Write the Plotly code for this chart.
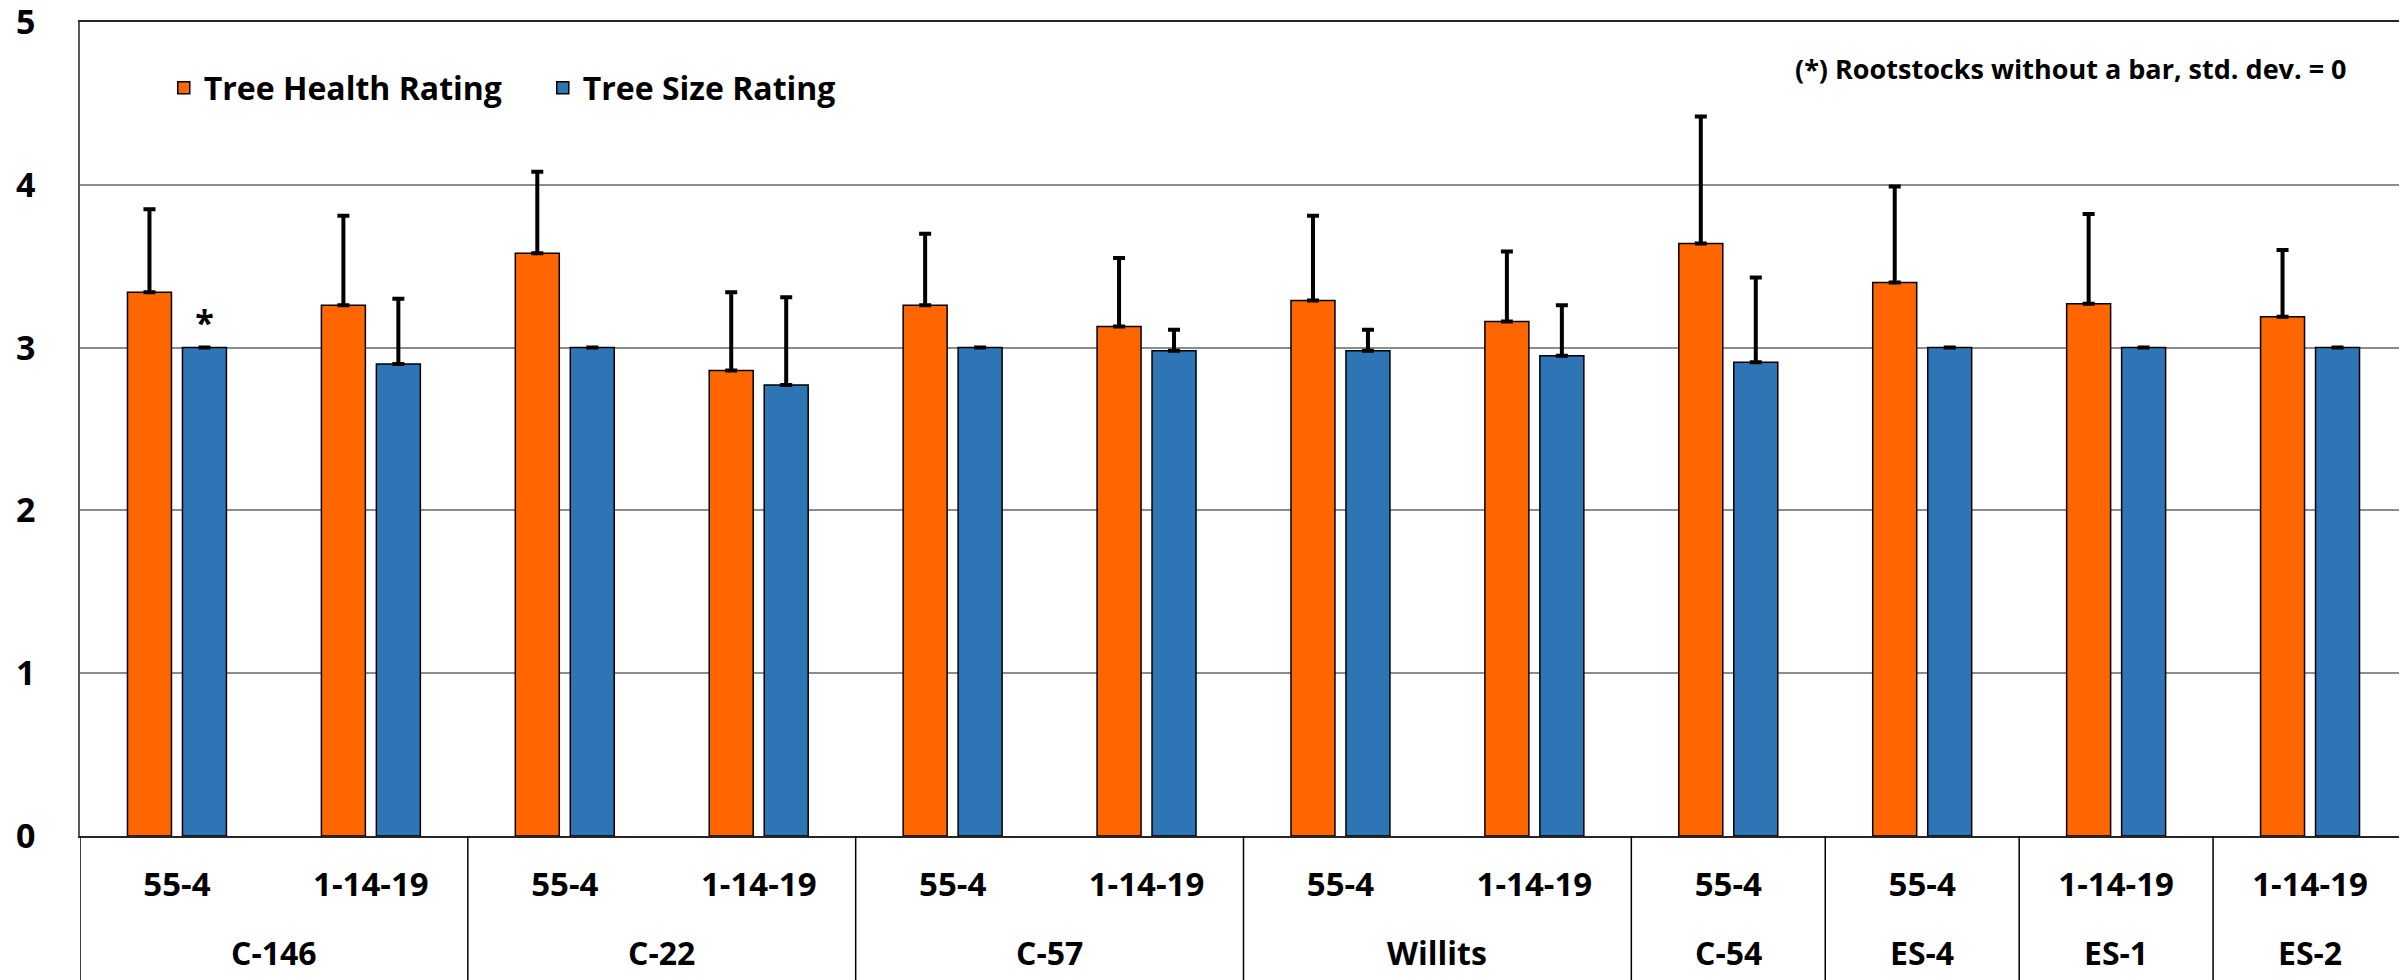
import plotly.graph_objects as go

# ---- data ----
groups = ["C-146", "C-146", "C-22", "C-22", "C-57", "C-57", "Willits", "Willits",
          "C-54", "ES-4", "ES-1", "ES-2"]
selections = ["55-4", "1-14-19", "55-4", "1-14-19", "55-4", "1-14-19", "55-4", "1-14-19",
              "55-4", "55-4", "1-14-19", "1-14-19"]
health = [3.34, 3.26, 3.58, 2.86, 3.26, 3.13, 3.29, 3.16, 3.64, 3.40, 3.27, 3.19]
health_sd = [0.51, 0.55, 0.50, 0.48, 0.44, 0.42, 0.52, 0.43, 0.78, 0.59, 0.55, 0.41]
size = [3.00, 2.90, 3.00, 2.77, 3.00, 2.98, 2.98, 2.95, 2.91, 3.00, 3.00, 3.00]
size_sd = [0.00, 0.40, 0.00, 0.54, 0.00, 0.13, 0.13, 0.31, 0.52, 0.00, 0.00, 0.00]
size_marks = ["*", "", "", "", "", "", "", "", "", "", "", ""]
y_ticks = [0, 1, 2, 3, 4, 5]
note = "(*) Rootstocks without a bar, std. dev. = 0"

FONT = "Open Sans, Liberation Sans, Arial, sans-serif"
pos = list(range(len(groups)))
zeros = [0] * len(health)

fig = go.Figure()
fig.add_trace(go.Bar(
    name="Tree Health Rating", x=pos, y=health,
    marker=dict(color="#FF6600", line=dict(color="black", width=1.5)),
    error_y=dict(type="data", symmetric=False, array=health_sd, arrayminus=zeros,
                 color="black", thickness=4, width=6),
))
fig.add_trace(go.Bar(
    name="Tree Size Rating", x=pos, y=size,
    marker=dict(color="#2E75B6", line=dict(color="black", width=1.5)),
    error_y=dict(type="data", symmetric=False, array=size_sd, arrayminus=zeros,
                 color="black", thickness=4, width=6),
    text=size_marks, textposition="outside", cliponaxis=False,
    textfont=dict(size=34, color="black", family=FONT, weight="bold"),
))

# group (outer level) labels and dividers, derived from the groups list
bounds = [i for i in range(len(groups)) if i == 0 or groups[i] != groups[i - 1]]
bounds_end = bounds[1:] + [len(groups)]
for start, end in zip(bounds, bounds_end):
    center = (start + end - 1) / 2
    fig.add_annotation(
        text=groups[start], x=center, xref="x", y=-0.1437, yref="paper",
        xanchor="center", yanchor="middle", showarrow=False,
        font=dict(size=32, color="black", family=FONT, weight="bold"),
    )
    fig.add_shape(type="line", xref="x", yref="paper", x0=start - 0.5, x1=start - 0.5,
                  y0=0, y1=-0.2, line=dict(color="black", width=1.5))

fig.add_annotation(
    text=note, xref="paper", yref="paper", x=0.975, y=0.943,
    xanchor="right", yanchor="middle", showarrow=False,
    font=dict(size=27, color="black", family=FONT, weight="bold"),
)

# the page body adds an 8px offset; the figure size and margins absorb it
fig.update_layout(
    width=2399, height=972,
    margin=dict(l=72, r=0, t=14, b=144, autoexpand=False),
    paper_bgcolor="white", plot_bgcolor="white",
    barmode="group", bargap=0.433, bargroupgap=0.2,
    font=dict(family=FONT, color="black"),
    showlegend=True,
    legend=dict(orientation="h", x=0.036, y=0.919, xanchor="left", yanchor="middle",
                font=dict(size=32, family=FONT, color="black", weight="bold"),
                entrywidth=334, entrywidthmode="pixels", bgcolor="rgba(0,0,0,0)"),
)
fig.update_yaxes(
    range=[0, 5], tickvals=y_ticks, showgrid=True, gridcolor="#8c8c8c", gridwidth=1.5,
    zeroline=False, showline=True, linecolor="#595959", linewidth=1.5,
    ticks="", ticklabelstandoff=36, ticklabeloverflow="allow", automargin=False,
    tickfont=dict(size=34, family=FONT, color="black", weight="bold"),
)
fig.update_xaxes(
    range=[-0.5, len(groups) - 0.5], tickvals=pos, ticktext=selections,
    showline=True, linecolor="#262626", linewidth=2, mirror=True,
    showgrid=False, zeroline=False, ticks="", ticklabelstandoff=18, automargin=False,
    tickfont=dict(size=33, family=FONT, color="black", weight="bold"),
)

fig.write_html("out.html")
